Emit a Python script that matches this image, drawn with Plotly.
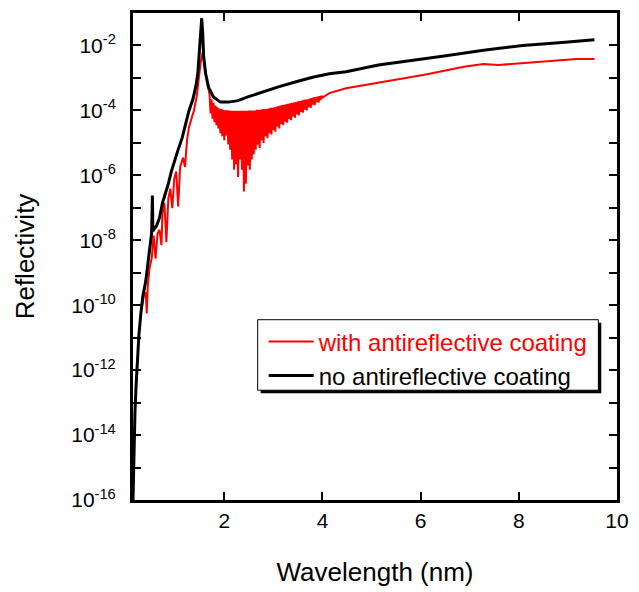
import plotly.graph_objects as go

# wavelength (nm) and reflectivity
wl_coated = [0.30, 0.36, 0.40, 0.42, 0.44, 0.48, 0.52, 0.56, 0.60, 0.64, 0.68, 0.72, 0.74, 0.78,
             0.82, 0.86, 0.90, 0.94, 0.98, 1.02, 1.06, 1.10, 1.16, 1.20, 1.24, 1.28, 1.32, 1.38,
             1.44, 1.48, 1.52, 1.56, 1.60, 1.64, 1.68,
             1.70, 1.72, 1.74, 1.76, 1.78, 1.80, 1.82, 1.84, 1.86, 1.88, 1.90, 1.92, 1.94, 1.96,
             1.98, 2.00, 2.02, 2.04, 2.06, 2.08, 2.10, 2.12, 2.14, 2.16, 2.18, 2.20, 2.22, 2.24,
             2.26, 2.28, 2.30, 2.32, 2.34, 2.36, 2.38, 2.40, 2.42, 2.44, 2.46, 2.48, 2.50, 2.52,
             2.54, 2.56, 2.58, 2.60, 2.62, 2.64, 2.66, 2.68, 2.70, 2.72, 2.74, 2.76, 2.78, 2.80,
             2.82, 2.84, 2.86, 2.88, 2.90, 2.92, 2.94, 2.96, 2.98, 3.00, 3.02, 3.04, 3.06, 3.08,
             3.10, 3.12, 3.14, 3.16, 3.18, 3.20, 3.22, 3.24, 3.26, 3.28, 3.30, 3.32, 3.34, 3.36,
             3.38, 3.40, 3.42, 3.44, 3.46, 3.48, 3.50, 3.52, 3.54, 3.56, 3.58, 3.60, 3.62, 3.64,
             3.66, 3.68, 3.70, 3.72, 3.74, 3.76, 3.78, 3.80, 3.82, 3.84, 3.86, 3.88, 3.90, 3.92,
             3.94, 3.96, 3.98, 4.00,
             4.14, 4.48, 4.82, 5.28, 6.08, 6.88, 7.28, 7.58, 7.88, 8.18, 8.68, 9.18, 9.54]
refl_coated = [5.6e-11, 1.9e-10, 2.5e-10, 5.6e-11, 3.8e-10, 1.5e-9, 2.7e-9, 1.4e-8, 2.7e-9, 1.6e-8,
               2.1e-8, 7.1e-9, 6.9e-8, 1.4e-7, 8.7e-9, 1.9e-7, 3.9e-7, 9.8e-8, 7.8e-7, 1.3e-6,
               1.1e-7, 1.8e-6, 3.5e-6, 1.8e-6, 1.2e-5, 3.0e-5, 4.9e-5, 9.8e-5, 2.8e-4, 1.1e-3,
               3.1e-3, 6.2e-3, 2.2e-3, 8.9e-4, 4.5e-4,
               3.0e-4, 8.0e-5, 2.2e-4, 5.6e-5, 1.7e-4, 4.3e-5, 1.4e-4, 3.5e-5, 1.25e-4, 2.8e-5,
               1.15e-4, 2.0e-5, 1.1e-4, 1.6e-5, 1.05e-4, 1.2e-5, 1.0e-4, 1.7e-5, 1.0e-4, 9.0e-6,
               1.0e-4, 6.2e-6, 9.8e-5, 3.1e-6, 9.8e-5, 1.5e-6, 9.8e-5, 2.2e-6, 9.8e-5, 8.9e-7,
               9.8e-5, 3.1e-6, 9.8e-5, 1.5e-6, 9.8e-5, 3.2e-7, 9.8e-5, 5.5e-7, 9.8e-5, 2.0e-6,
               1.0e-4, 1.5e-6, 1.0e-4, 3.1e-6, 1.0e-4, 4.5e-6, 1.0e-4, 6.2e-6, 1.05e-4, 8.7e-6,
               1.05e-4, 7.0e-6, 1.05e-4, 1.2e-5, 1.1e-4, 1.0e-5, 1.1e-4, 1.6e-5, 1.1e-4, 1.4e-5,
               1.15e-4, 2.0e-5, 1.2e-4, 1.8e-5, 1.2e-4, 2.5e-5, 1.25e-4, 2.2e-5, 1.3e-4, 3.2e-5,
               1.35e-4, 2.8e-5, 1.4e-4, 3.8e-5, 1.45e-4, 3.5e-5, 1.5e-4, 4.5e-5, 1.55e-4, 4.2e-5,
               1.6e-4, 5.5e-5, 1.65e-4, 5.0e-5, 1.7e-4, 6.5e-5, 1.75e-4, 6.0e-5, 1.8e-4, 7.5e-5,
               1.9e-4, 7.0e-5, 1.95e-4, 9.0e-5, 2.0e-4, 8.5e-5, 2.1e-4, 1.05e-4, 2.15e-4, 1.0e-4,
               2.2e-4, 1.25e-4, 2.3e-4, 1.2e-4, 2.4e-4, 1.5e-4, 2.5e-4, 1.45e-4, 2.55e-4, 1.8e-4,
               2.65e-4, 1.75e-4, 2.75e-4, 2.1e-4, 2.85e-4, 2.5e-4,
               3.4e-4, 4.8e-4, 5.9e-4, 7.8e-4, 1.26e-3, 2.2e-3, 2.7e-3, 2.5e-3, 2.7e-3, 2.9e-3,
               3.3e-3, 3.8e-3, 3.8e-3]

wl_bare = [0.14, 0.16, 0.18, 0.20, 0.22, 0.24, 0.26, 0.30, 0.34, 0.40, 0.44, 0.48, 0.52, 0.535,
           0.545, 0.56, 0.62, 0.68, 0.74, 0.80, 0.86, 0.92, 0.98, 1.06, 1.14, 1.22, 1.28, 1.36,
           1.42, 1.46, 1.50, 1.54, 1.56, 1.58, 1.62, 1.68, 1.78, 1.92, 2.08, 2.28, 2.48, 2.82,
           3.10, 3.48, 3.80, 4.14, 4.48, 5.14, 5.88, 6.48, 7.28, 8.08, 8.88, 9.54]
refl_bare = [1.0e-16, 6.2e-15, 4.9e-14, 2.8e-13, 1.1e-12, 3.1e-12, 1.2e-11, 5.6e-11, 1.9e-10,
             5.5e-10, 1.8e-9, 6.2e-9, 1.7e-8, 2.4e-7, 1.9e-8, 2.1e-8, 2.8e-8, 4.9e-8, 1.4e-7,
             2.8e-7, 5.5e-7, 1.3e-6, 2.7e-6, 6.2e-6, 1.4e-5, 4.3e-5, 9.8e-5, 2.2e-4, 5.5e-4,
             1.35e-3, 8.7e-3, 6.9e-2, 2.5e-2, 4.4e-3, 1.35e-3, 5.1e-4, 2.6e-4, 1.8e-4, 1.8e-4,
             2.0e-4, 2.6e-4, 3.9e-4, 5.3e-4, 7.8e-4, 1.05e-3, 1.35e-3, 1.55e-3, 2.5e-3, 3.5e-3,
             4.7e-3, 7.1e-3, 1.0e-2, 1.23e-2, 1.5e-2]

x_ticks = [2, 4, 6, 8, 10]
y_major_exps = [-16, -14, -12, -10, -8, -6, -4, -2]
y_minor_exps = [-15, -13, -11, -9, -7, -5, -3]

font = dict(family='Arial, Liberation Sans, sans-serif', color='black')

fig = go.Figure()
fig.add_trace(go.Scatter(x=wl_coated, y=refl_coated, mode='lines',
                         line=dict(color='red', width=2),
                         name='<span style="color:red">with antireflective coating</span>'))
fig.add_trace(go.Scatter(x=wl_bare, y=refl_bare, mode='lines',
                         line=dict(color='black', width=3),
                         name='no antireflective coating'))

fig.update_layout(
    width=639, height=592,
    margin=dict(l=133, r=13, t=10, b=85),
    paper_bgcolor='white', plot_bgcolor='white',
    font=dict(size=21, **font),
    showlegend=True,
    legend=dict(x=0.27, y=0.371, xanchor='left', yanchor='top',
                bgcolor='rgba(0,0,0,0)', borderwidth=0,
                font=dict(size=24, **font), itemwidth=45, tracegroupgap=0),
    shapes=[
        # legend drop shadow and frame
        dict(type='rect', xref='paper', yref='paper', x0=0.2637, x1=0.9675, y0=0.2193, y1=0.3642,
             fillcolor='black', line=dict(width=0), layer='above'),
        dict(type='rect', xref='paper', yref='paper', x0=0.2576, x1=0.9615, y0=0.2254, y1=0.3702,
             fillcolor='white', line=dict(color='black', width=1), layer='above'),
    ],
)

fig.update_xaxes(range=[0.14, 10], tickvals=x_ticks, ticks='inside', ticklen=8, tickwidth=1.5,
                 tickcolor='black', showline=True, linewidth=3, linecolor='black', mirror='allticks',
                 showgrid=False, zeroline=False, tickfont=dict(size=21, **font),
                 ticklabeloverflow='allow',
                 title=dict(text='Wavelength (nm)', font=dict(size=26, **font), standoff=32))
fig.update_yaxes(type='log', range=[-16, -1],
                 tickvals=[10.0 ** e for e in y_major_exps],
                 ticktext=['10<sup>%d</sup>' % e for e in y_major_exps],
                 ticks='inside', ticklen=8, tickwidth=1.5, tickcolor='black',
                 minor=dict(tickvals=[10.0 ** e for e in y_minor_exps], ticks='inside',
                            ticklen=8, tickwidth=1.5, tickcolor='black', showgrid=False),
                 showline=True, linewidth=3, linecolor='black', mirror='allticks',
                 showgrid=False, zeroline=False, tickfont=dict(size=21, **font),
                 ticklabelstandoff=10,
                 title=dict(text='Reflectivity', font=dict(size=26, **font), standoff=30))

# drop the default page margin and any stray line box so the page is exactly the figure
page_css = ("document.body.style.margin = '0';"
            "document.body.style.lineHeight = '0';"
            "document.body.style.fontSize = '0';"
            "document.body.style.overflow = 'hidden';"
            "document.documentElement.style.overflow = 'hidden';")
fig.write_html('out.html', config={'displayModeBar': False}, post_script=page_css)
